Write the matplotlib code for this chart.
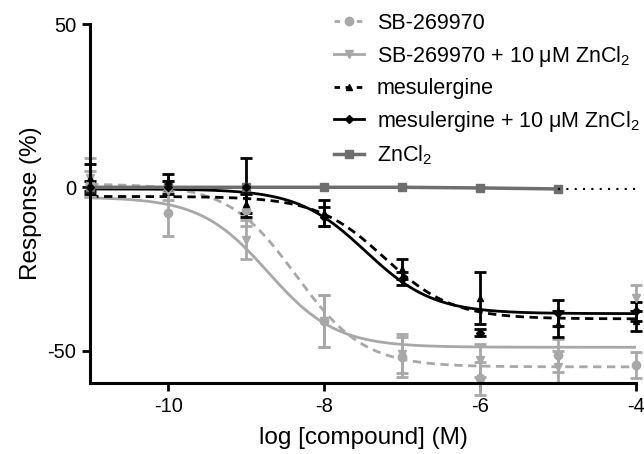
import numpy as np
import matplotlib
matplotlib.use("Agg")
import matplotlib.pyplot as plt
from matplotlib.lines import Line2D

plt.rcParams["font.family"] = ["Liberation Sans", "DejaVu Sans"]
plt.rcParams["mathtext.fontset"] = "custom"
plt.rcParams["mathtext.rm"] = "Liberation Sans"
plt.rcParams["mathtext.it"] = "Liberation Sans:italic"
plt.rcParams["axes.unicode_minus"] = False

# concentrations (log M)
log_conc = [-11, -10, -9, -8, -7, -6, -5, -4]

sb = [1, -8, -7, -41, -52, -58.5, -51.5, -54.5]
sb_err = [4, 7, 5, 8, 6, 5, 5, 4]
sb_zn = [3, -1, -16, -41, -51, -53, -55, -34]
sb_zn_err = [6, 3, 6, 8, 6, 5, 5, 4]
mes = [3, 2, -5, -8, -25, -34, -42, -41]
mes_err = [4, 2, 3, 4, 3, 8, 4, 3]
mes_zn = [0, 0, 0, -9, -28, -44.5, -38.5, -38]
mes_zn_err = [2, 2, 9, 3, 2, 1, 4, 3]
zn_conc = [-11, -10, -9, -8, -7, -6, -5]
zn = [0, 0, 0, 0, 0, -0.2, -0.5]

# fitted curves: top, bottom, logIC50, hill slope
sb_fit = [1, -55, -8.36, 1.0]
sb_zn_fit = [-3, -49, -8.72, 1.0]
mes_fit = [-2.8, -40.3, -7.23, 1.0]
mes_zn_fit = [-0.5, -38.7, -7.47, 1.0]

light = "#a8a8a8"
dark = "#6e6e6e"


def curve(p, x):
    top, bottom, ic50, hill = p
    return bottom + (top - bottom) / (1 + 10 ** ((x - ic50) * hill))


fig = plt.figure(figsize=(6.44, 4.54), dpi=100)
ax = fig.add_axes([0.14, 0.156, 0.848, 0.791])

xs = np.linspace(-11, -4, 300)
ax.plot(xs, curve(sb_fit, xs), color=light, lw=2, ls=(0, (3, 2)))
ax.plot(xs, curve(sb_zn_fit, xs), color=light, lw=2)
ax.plot(xs, curve(mes_fit, xs), color="black", lw=2, ls=(0, (3, 2)))
ax.plot(xs, curve(mes_zn_fit, xs), color="black", lw=2)

eb = dict(ls="none", elinewidth=2, capsize=4, capthick=2, clip_on=False)
ax.errorbar(log_conc, sb, yerr=sb_err, color=light, marker="o", ms=6, **eb)
ax.errorbar(log_conc, sb_zn, yerr=sb_zn_err, color=light, marker="v", ms=6, **eb)
ax.errorbar(log_conc, mes, yerr=mes_err, color="black", marker="^", ms=5, **eb)
ax.errorbar(log_conc, mes_zn, yerr=mes_zn_err, color="black", marker="D", ms=4, **eb)

ax.plot(zn_conc, zn, color=dark, lw=2.5, marker="s", ms=6, clip_on=False)
ax.plot([zn_conc[-1], -4], [zn[-1], zn[-1]], color="black", lw=1.5, ls=(0, (1, 3)))

ax.set_xlim(-11, -4)
ax.set_ylim(-60, 50)
ax.set_xticks([-10, -8, -6, -4])
ax.set_yticks([50, 0, -50])
ax.spines["top"].set_visible(False)
ax.spines["right"].set_visible(False)
for s in ["left", "bottom"]:
    ax.spines[s].set_linewidth(2.2)
ax.tick_params(width=2, length=6, labelsize=14.5, pad=4)
ax.set_xlabel("log [compound] (M)", fontsize=17.5, labelpad=8)
ax.set_ylabel("Response (%)", fontsize=17.5, labelpad=4)

handles = [
    Line2D([], [], color=light, lw=2, ls=(0, (2, 2)), marker="o", ms=6),
    Line2D([], [], color=light, lw=2, marker="v", ms=6),
    Line2D([], [], color="black", lw=2, ls=(0, (2, 2)), marker="^", ms=5),
    Line2D([], [], color="black", lw=2, marker="D", ms=4),
    Line2D([], [], color=dark, lw=2.5, marker="s", ms=6),
]
labels = [
    "SB-269970",
    "SB-269970 + 10 \u03bcM ZnCl$_2$",
    "mesulergine",
    "mesulergine + 10 \u03bcM ZnCl$_2$",
    "ZnCl$_2$",
]
ax.legend(handles, labels, loc="upper left", bbox_to_anchor=(0.43, 1.055),
          frameon=False, fontsize=15.5, handlelength=1.4, handletextpad=0.6,
          labelspacing=0.45, borderaxespad=0)

fig.savefig("out.png", dpi=100)
